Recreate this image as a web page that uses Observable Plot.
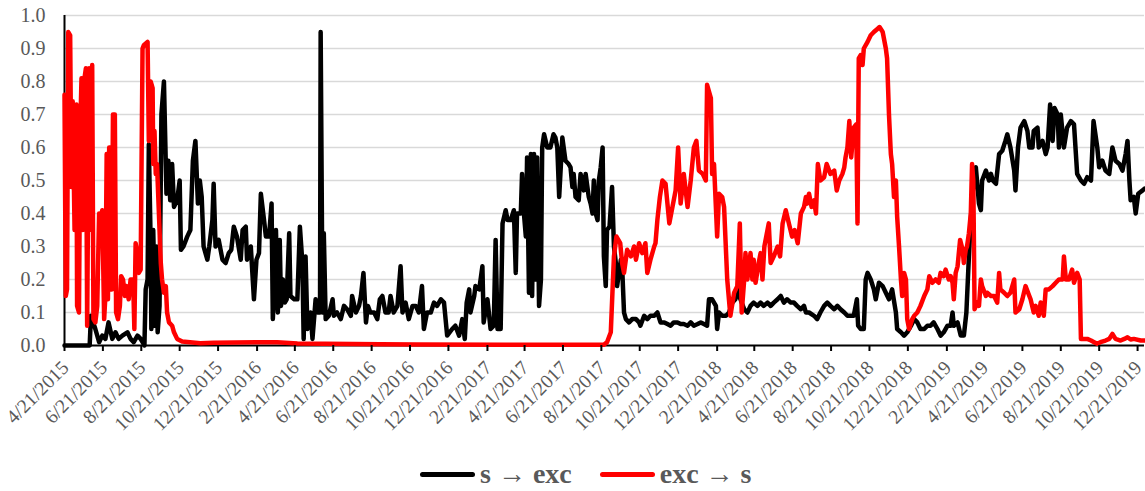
<!DOCTYPE html>
<html><head><meta charset="utf-8">
<script src="https://cdn.jsdelivr.net/npm/d3@7"></script>
<script src="https://cdn.jsdelivr.net/npm/@observablehq/plot@0.6"></script>
<style>
body{margin:0;background:#fff;font-family:"Liberation Serif",serif;}
#chart svg, #chart svg text{font-family:"Liberation Serif",serif !important;}
#legend{display:flex;align-items:center;height:46px;margin-top:6px;padding-left:420px;font:bold 28px "Liberation Serif",serif;color:#595959;white-space:pre;}
.sw{width:55px;height:5px;border-radius:3px;margin-right:5px;}
</style></head><body><div id="chart"></div><div id="legend"></div>
<script>
// day offset from 4/21/2015, value
const startDate = "2015-04-21";
const seriesNames = ["s \u2192 exc", "exc \u2192 s"];
const seriesColors = ["#000000", "#ff0000"];
const yTicks = [0,0.1,0.2,0.3,0.4,0.5,0.6,0.7,0.8,0.9,1.0];
const tickLabels = ["4/21/2015","6/21/2015","8/21/2015","10/21/2015","12/21/2015","2/21/2016","4/21/2016","6/21/2016","8/21/2016","10/21/2016","12/21/2016","2/21/2017","4/21/2017","6/21/2017","8/21/2017","10/21/2017","12/21/2017","2/21/2018","4/21/2018","6/21/2018","8/21/2018","10/21/2018","12/21/2018","2/21/2019","4/21/2019","6/21/2019","8/21/2019","10/21/2019","12/21/2019"];
const lastDay = 1716;

const sToExc = [[0,0],[40,0],[42,0.09],[49,0.05],[55,0.01],[60,0.03],[65,0.02],[70,0.07],[76,0.02],[81,0.04],[86,0.02],[92,0.03],[100,0.04],[105,0.02],[110,0.01],[116,0.03],[121,0.02],[127,0],[129,0.17],[132,0.2],[134,0.61],[137,0.3],[138,0.05],[141,0.35],[144,0.06],[146,0.3],[148,0.04],[151,0.12],[154,0.7],[158,0.8],[162,0.46],[165,0.56],[168,0.44],[171,0.55],[174,0.42],[179,0.44],[183,0.5],[185,0.29],[189,0.3],[195,0.33],[200,0.35],[204,0.56],[208,0.62],[212,0.43],[215,0.5],[218,0.45],[221,0.3],[227,0.26],[230,0.3],[235,0.38],[237,0.49],[240,0.3],[245,0.32],[251,0.26],[256,0.25],[261,0.28],[265,0.29],[269,0.36],[274,0.33],[280,0.26],[283,0.35],[288,0.36],[290,0.26],[296,0.3],[301,0.14],[305,0.26],[309,0.28],[312,0.46],[317,0.38],[320,0.33],[325,0.33],[329,0.43],[331,0.08],[334,0.2],[336,0.35],[339,0.1],[342,0.32],[344,0.12],[347,0.2],[350,0.13],[353,0.14],[357,0.34],[359,0.15],[365,0.14],[370,0.14],[374,0.36],[378,0.25],[380,0.02],[383,0.27],[386,0.05],[391,0.1],[394,0.02],[399,0.14],[402,0.1],[406,0.1],[407,0.95],[410,0.1],[412,0.34],[415,0.08],[420,0.09],[426,0.14],[428,0.09],[433,0.1],[439,0.08],[444,0.12],[449,0.11],[455,0.09],[457,0.15],[463,0.1],[468,0.12],[471,0.15],[475,0.22],[479,0.07],[482,0.12],[486,0.1],[492,0.1],[497,0.08],[501,0.14],[505,0.15],[510,0.1],[515,0.1],[518,0.15],[523,0.1],[529,0.12],[534,0.24],[537,0.1],[542,0.13],[547,0.08],[553,0.12],[558,0.12],[563,0.1],[568,0.18],[571,0.05],[576,0.1],[582,0.1],[587,0.13],[592,0.12],[598,0.14],[603,0.13],[608,0.03],[616,0.05],[621,0.06],[627,0.03],[629,0.05],[632,0.08],[636,0.02],[639,0.13],[643,0.17],[645,0.1],[651,0.15],[653,0.18],[659,0.17],[664,0.24],[666,0.07],[672,0.14],[677,0.05],[682,0.06],[685,0.32],[688,0.05],[693,0.05],[696,0.37],[701,0.41],[704,0.38],[709,0.38],[714,0.41],[717,0.22],[719,0.4],[725,0.4],[727,0.52],[730,0.4],[733,0.33],[735,0.57],[738,0.16],[741,0.58],[743,0.15],[746,0.58],[749,0.2],[751,0.57],[754,0.12],[757,0.2],[759,0.6],[762,0.64],[767,0.6],[772,0.6],[777,0.64],[780,0.63],[783,0.6],[786,0.45],[791,0.63],[796,0.56],[801,0.55],[804,0.54],[807,0.48],[809,0.52],[812,0.45],[817,0.44],[820,0.52],[825,0.47],[828,0.52],[833,0.45],[836,0.43],[839,0.4],[841,0.5],[844,0.4],[847,0.38],[849,0.5],[852,0.54],[855,0.6],[857,0.27],[860,0.18],[862,0.35],[866,0.36],[870,0.48],[873,0.3],[876,0.25],[878,0.18],[884,0.26],[886,0.24],[889,0.1],[892,0.08],[897,0.07],[902,0.08],[908,0.08],[913,0.07],[915,0.06],[921,0.09],[926,0.08],[931,0.09],[937,0.09],[942,0.1],[947,0.07],[953,0.07],[958,0.065],[963,0.06],[968,0.07],[974,0.07],[979,0.065],[984,0.065],[990,0.06],[995,0.07],[1000,0.06],[1006,0.065],[1011,0.07],[1016,0.065],[1021,0.06],[1024,0.14],[1029,0.14],[1035,0.12],[1037,0.05],[1040,0.1],[1045,0.09],[1051,0.09],[1056,0.1],[1061,0.13],[1066,0.14],[1069,0.17],[1074,0.14],[1080,0.11],[1085,0.1],[1090,0.12],[1095,0.13],[1101,0.12],[1106,0.13],[1111,0.12],[1117,0.13],[1122,0.12],[1127,0.13],[1133,0.14],[1138,0.15],[1143,0.13],[1148,0.14],[1154,0.13],[1159,0.13],[1164,0.12],[1170,0.11],[1175,0.12],[1178,0.1],[1183,0.1],[1191,0.09],[1196,0.08],[1201,0.1],[1207,0.12],[1212,0.13],[1217,0.12],[1223,0.11],[1228,0.12],[1233,0.11],[1239,0.1],[1244,0.09],[1249,0.09],[1254,0.09],[1259,0.14],[1261,0.06],[1265,0.05],[1270,0.05],[1273,0.2],[1276,0.22],[1281,0.2],[1286,0.17],[1289,0.14],[1294,0.19],[1300,0.18],[1305,0.16],[1310,0.14],[1315,0.17],[1321,0.1],[1323,0.05],[1329,0.04],[1334,0.03],[1339,0.04],[1345,0.06],[1350,0.08],[1355,0.07],[1360,0.05],[1366,0.05],[1371,0.06],[1376,0.06],[1381,0.07],[1387,0.05],[1392,0.03],[1397,0.04],[1403,0.06],[1408,0.06],[1411,0.1],[1413,0.06],[1419,0.07],[1424,0.03],[1429,0.03],[1433,0.1],[1437,0.27],[1442,0.45],[1448,0.54],[1453,0.43],[1456,0.41],[1458,0.5],[1464,0.53],[1469,0.5],[1472,0.52],[1475,0.5],[1480,0.49],[1485,0.58],[1490,0.59],[1495,0.62],[1498,0.64],[1503,0.6],[1509,0.53],[1511,0.47],[1515,0.6],[1519,0.66],[1525,0.68],[1530,0.65],[1533,0.6],[1538,0.6],[1540,0.65],[1546,0.66],[1548,0.6],[1554,0.62],[1559,0.58],[1562,0.6],[1566,0.73],[1570,0.62],[1573,0.72],[1578,0.7],[1580,0.6],[1583,0.7],[1588,0.6],[1593,0.66],[1599,0.68],[1604,0.67],[1609,0.52],[1615,0.5],[1620,0.49],[1625,0.51],[1631,0.5],[1635,0.68],[1641,0.6],[1644,0.54],[1649,0.56],[1654,0.53],[1660,0.52],[1665,0.6],[1670,0.56],[1676,0.55],[1681,0.53],[1686,0.58],[1689,0.62],[1692,0.5],[1694,0.44],[1699,0.45],[1702,0.4],[1706,0.46],[1713,0.47],[1716,0.475]];

const excToS = [[0,0.76],[2,0.15],[4,0.17],[6,0.95],[9,0.94],[11,0.48],[13,0.74],[16,0.35],[19,0.73],[20,0.12],[23,0.1],[25,0.65],[27,0.81],[29,0.35],[31,0.8],[34,0.84],[36,0.06],[39,0.84],[40,0.35],[44,0.85],[46,0.08],[49,0.07],[52,0.12],[55,0.4],[57,0.38],[60,0.41],[63,0.08],[65,0.15],[67,0.58],[69,0.14],[71,0.6],[74,0.6],[75,0.17],[77,0.7],[80,0.7],[82,0.1],[85,0.08],[88,0.12],[90,0.21],[93,0.2],[96,0.15],[98,0.18],[102,0.14],[105,0.2],[109,0.2],[111,0.05],[113,0.31],[116,0.28],[118,0.22],[121,0.23],[124,0.9],[126,0.91],[132,0.92],[134,0.62],[137,0.8],[140,0.78],[141,0.55],[143,0.65],[145,0.52],[147,0.55],[150,0.4],[153,0.25],[155,0.2],[158,0.16],[161,0.18],[163,0.1],[166,0.07],[171,0.06],[174,0.04],[179,0.02],[187,0.012],[216,0.007],[237,0.008],[317,0.01],[338,0.01],[370,0.006],[502,0.004],[560,0.003],[700,0.002],[857,0.002],[862,0.01],[868,0.04],[873,0.27],[877,0.33],[883,0.31],[886,0.25],[889,0.22],[894,0.29],[900,0.27],[905,0.3],[908,0.26],[913,0.31],[918,0.28],[923,0.31],[926,0.22],[931,0.26],[937,0.3],[939,0.31],[942,0.38],[946,0.45],[950,0.5],[955,0.49],[961,0.37],[966,0.42],[971,0.47],[975,0.6],[979,0.43],[984,0.52],[990,0.42],[995,0.5],[1000,0.6],[1004,0.62],[1008,0.53],[1014,0.52],[1019,0.5],[1021,0.79],[1027,0.75],[1029,0.52],[1032,0.55],[1037,0.33],[1040,0.46],[1045,0.45],[1048,0.42],[1053,0.2],[1058,0.09],[1064,0.16],[1069,0.18],[1073,0.37],[1076,0.1],[1080,0.2],[1082,0.28],[1085,0.2],[1090,0.28],[1093,0.2],[1095,0.26],[1098,0.19],[1103,0.25],[1106,0.28],[1109,0.2],[1112,0.3],[1117,0.35],[1119,0.37],[1122,0.25],[1127,0.27],[1133,0.3],[1137,0.27],[1141,0.37],[1146,0.41],[1151,0.37],[1156,0.33],[1160,0.35],[1165,0.31],[1170,0.4],[1175,0.42],[1178,0.45],[1180,0.43],[1183,0.46],[1187,0.42],[1191,0.44],[1194,0.4],[1197,0.55],[1201,0.5],[1207,0.51],[1211,0.55],[1217,0.52],[1223,0.53],[1227,0.47],[1231,0.5],[1236,0.52],[1239,0.54],[1241,0.57],[1244,0.6],[1247,0.68],[1250,0.57],[1254,0.66],[1258,0.67],[1260,0.37],[1262,0.87],[1265,0.88],[1268,0.85],[1270,0.9],[1276,0.92],[1281,0.94],[1286,0.95],[1292,0.96],[1295,0.965],[1300,0.95],[1305,0.9],[1307,0.87],[1310,0.7],[1313,0.58],[1315,0.55],[1318,0.45],[1321,0.5],[1323,0.39],[1326,0.3],[1329,0.2],[1331,0.15],[1334,0.22],[1337,0.2],[1339,0.08],[1342,0.05],[1347,0.08],[1350,0.09],[1355,0.1],[1360,0.12],[1366,0.15],[1371,0.17],[1374,0.21],[1379,0.19],[1384,0.2],[1389,0.19],[1392,0.22],[1397,0.21],[1400,0.23],[1405,0.2],[1408,0.21],[1411,0.19],[1413,0.14],[1416,0.22],[1419,0.24],[1423,0.32],[1427,0.29],[1429,0.25],[1432,0.29],[1434,0.3],[1437,0.34],[1440,0.4],[1442,0.55],[1444,0.5],[1446,0.11],[1450,0.13],[1453,0.12],[1456,0.2],[1458,0.18],[1464,0.15],[1466,0.16],[1472,0.15],[1477,0.15],[1482,0.13],[1485,0.22],[1487,0.17],[1493,0.16],[1498,0.15],[1503,0.16],[1509,0.2],[1511,0.1],[1517,0.11],[1522,0.14],[1527,0.18],[1533,0.15],[1535,0.14],[1540,0.1],[1543,0.12],[1548,0.09],[1551,0.13],[1556,0.09],[1559,0.17],[1564,0.17],[1570,0.18],[1575,0.19],[1580,0.2],[1586,0.2],[1588,0.27],[1591,0.2],[1596,0.2],[1601,0.23],[1604,0.19],[1609,0.22],[1613,0.2],[1615,0.02],[1620,0.02],[1625,0.02],[1631,0.015],[1636,0.01],[1641,0.005],[1646,0.01],[1654,0.015],[1660,0.02],[1665,0.035],[1670,0.02],[1678,0.015],[1684,0.02],[1689,0.025],[1694,0.018],[1699,0.02],[1710,0.015],[1716,0.015]];

const t0 = Date.parse(startDate + "T00:00:00Z");
const day = d => new Date(t0 + d * 86400000);
const parseLabel = s => { const [m, d, y] = s.split("/").map(Number); return new Date(Date.UTC(y, m - 1, d)); };
const tickDates = tickLabels.map(parseLabel);
const labelByTime = new Map(tickDates.map((d, i) => [+d, tickLabels[i]]));
const FONT = '"Liberation Serif", serif';

const lineOpts = (color) => ({x: d => day(d[0]), y: d => d[1], stroke: color, strokeWidth: 4.5, strokeLinejoin: "round", strokeLinecap: "round"});

const chart = Plot.plot({
  width: 1145, height: 445,
  marginLeft: 64, marginRight: 1, marginTop: 15, marginBottom: 100,
  style: {fontFamily: FONT, background: "white", overflow: "visible"},
  x: {type: "utc", domain: [day(0), day(lastDay)]},
  y: {domain: [0, 1]},
  marks: [
    Plot.gridY(yTicks.filter(v => v > 0), {stroke: "#d9d9d9", strokeOpacity: 1, strokeWidth: 1.5}),
    Plot.ruleX([day(0)], {stroke: "black", strokeWidth: 2}),
    Plot.ruleY([0], {stroke: "black", strokeWidth: 2}),
    Plot.lineY(sToExc, lineOpts(seriesColors[0])),
    Plot.lineY(excToS, lineOpts(seriesColors[1])),
    Plot.axisY(yTicks, {tickSize: 0, tickPadding: 19, tickFormat: d3.format(".1f"), fontSize: 20, fontFamily: FONT, fill: "#595959", label: null}),
    // tick marks only
    Plot.axisX(tickDates, {tickSize: 6, stroke: "black", strokeWidth: 2, fill: "none", tickFormat: d => labelByTime.get(+d), label: null}),
    // rotated tick labels only
    Plot.axisX(tickDates, {tickSize: 6, stroke: "none", tickRotate: -45, fontSize: 19.5, fontFamily: FONT, fill: "#595959", tickPadding: 3, dx: 1, dy: 10, tickFormat: d => labelByTime.get(+d), label: null})
  ]
});
document.getElementById("chart").appendChild(chart);

const legend = document.getElementById("legend");
seriesNames.forEach((name, i) => {
  const sw = document.createElement("div");
  sw.className = "sw";
  sw.style.background = seriesColors[i];
  const tx = document.createElement("span");
  tx.textContent = name;
  tx.style.marginRight = i === 0 ? "28px" : "0";
  legend.appendChild(sw);
  legend.appendChild(tx);
});
</script>
</body></html>
